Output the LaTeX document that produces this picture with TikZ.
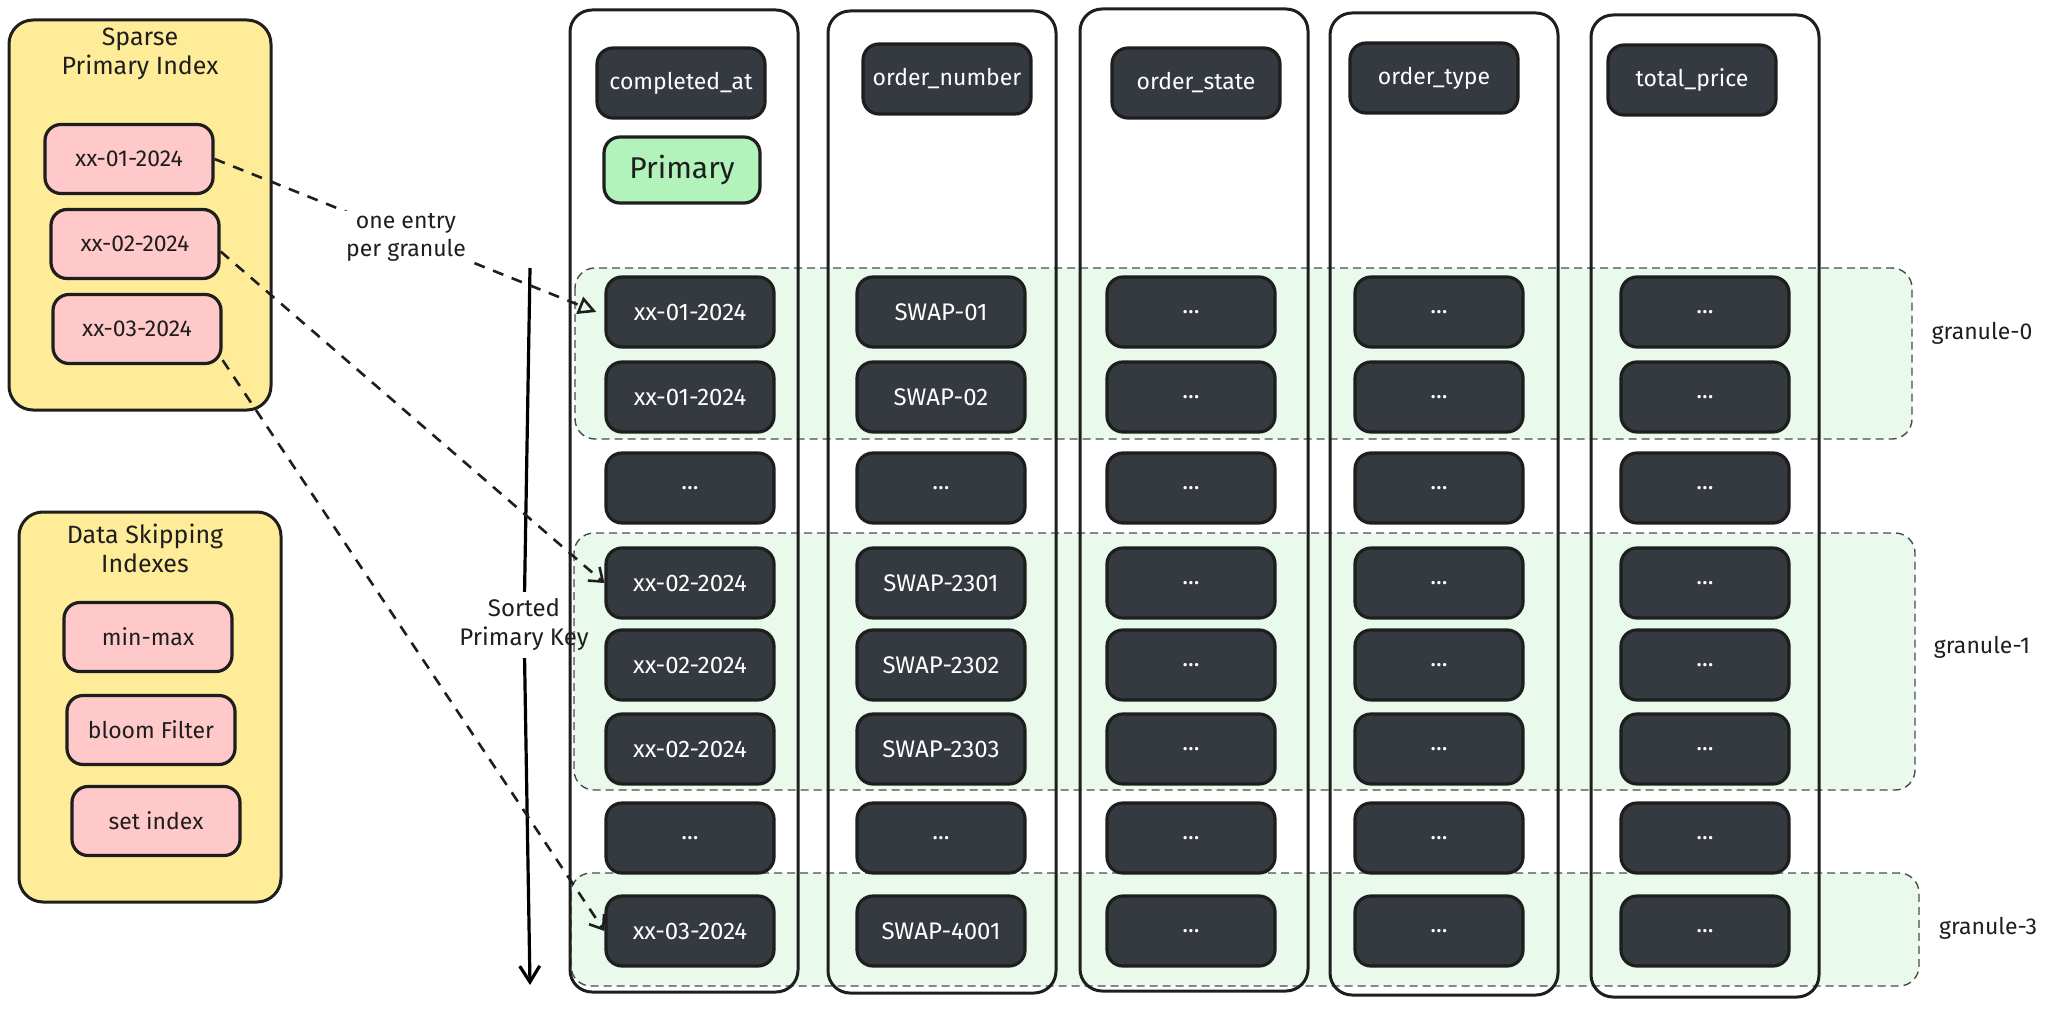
\documentclass[tikz,border=0pt]{standalone}
\usepackage{fontspec}
\setmainfont{Fira Sans}
\usetikzlibrary{arrows.meta,positioning,shapes}

\definecolor{idxyellow}{HTML}{FFEC99}
\definecolor{idxpink}{HTML}{FFC9C9}
\definecolor{keygreen}{HTML}{B2F2BB}
\definecolor{celldark}{HTML}{343A40}
\definecolor{inkblack}{HTML}{1E1E1E}
\definecolor{granulefill}{HTML}{E9F9EC}

\begin{document}
\begin{tikzpicture}[x=0.5pt,y=-0.5pt,
	font=\fontsize{11.5}{14}\selectfont,text=inkblack,
	panel/.style={draw=inkblack,line width=1.5pt,fill=idxyellow,rounded corners=12pt,minimum width=131pt,minimum height=195pt},
	entry/.style={draw=inkblack,line width=1.6pt,fill=idxpink,rounded corners=8pt,minimum width=84pt,minimum height=34.5pt},
	cell/.style={draw=inkblack,line width=1.6pt,fill=celldark,text=white,rounded corners=8pt,minimum width=84pt,minimum height=35pt,font=\fontsize{12}{14}\selectfont},
	column/.style={draw=inkblack,line width=1.5pt,rounded corners=11pt,minimum width=114pt,minimum height=491pt},
	granule/.style={draw=inkblack!80,dash pattern=on 4pt off 2.5pt,line width=0.7pt,fill=granulefill,rounded corners=10pt},
	pointer/.style={draw=inkblack,line width=1.3pt,dash pattern=on 5.5pt off 4.5pt},
	title/.style={align=center,font=\fontsize{12.5}{14.5}\selectfont}]

\useasboundingbox (0,0) rectangle (2048,1010);

%sparse primary index
\node[panel] (sparse) at (140,215) {};
\node[title] (sparsetitle) at (140,54) {Sparse\\Primary Index};
\node[entry] (pi1) at (129,159) {xx-01-2024};
\node[entry] (pi2) at (135,244) {xx-02-2024};
\node[entry] (pi3) at (137,329) {xx-03-2024};

%data skipping indexes
\node[panel] (skip) at (150,707) {};
\node[title] (skiptitle) at (145,548) {Data Skipping\\Indexes};
\node[entry] (minmax) at (148,637) {min-max};
\node[entry] (bloom) at (151,730) {bloom Filter};
\node[entry] (setidx) at (156,821) {set index};

%granules
\draw[granule] (575,268) rectangle (1912,439);%granule-0
\draw[granule] (574,533) rectangle (1915,790);%granule-1
\draw[granule] (571,873) rectangle (1919,986);%granule-3
\node (g0) at (1982,333) {granule-0};
\node (g1) at (1982,647) {granule-1};
\node (g3) at (1988,928) {granule-3};

%sort order
\coordinate (keytop) at (530,268);
\coordinate (keyend) at (530,985);
\node[align=center,font=\fontsize{12}{14.5}\selectfont] (sortkey) at (524,625) {Sorted\\Primary Key};
\draw[line width=1.6pt] (keytop) -- (sortkey);
\draw[-{Straight Barb[length=8pt,width=10pt]},line width=1.6pt] (sortkey) -- (keyend);

%columns
\node[column] (col1) at (684,501) {};
\node[column] (col2) at (942,502) {};
\node[column] (col3) at (1194,500) {};
\node[column] (col4) at (1444,504) {};
\node[column] (col5) at (1705,506) {};

%headers
\node[cell,font=\fontsize{11.5}{14}\selectfont] (hcompleted) at (681,83) {completed\_at};
\node[cell,font=\fontsize{11.5}{14}\selectfont] (hnumber) at (947,79) {order\_number};
\node[cell,font=\fontsize{11.5}{14}\selectfont] (hstate) at (1196,83) {order\_state};
\node[cell,font=\fontsize{11.5}{14}\selectfont] (htype) at (1434,78) {order\_type};
\node[cell,font=\fontsize{11.5}{14}\selectfont] (hprice) at (1692,80) {total\_price};
\node[draw=inkblack,line width=1.6pt,fill=keygreen,rounded corners=8pt,minimum width=78pt,minimum height=33pt,font=\fontsize{15}{17}\selectfont] (primary) at (682,170) {Primary};

%completed_at
\node[cell] (c11) at (690,312) {xx-01-2024};
\node[cell] (c21) at (690,397) {xx-01-2024};
\node[cell] (c31) at (690,488) {...};
\node[cell] (c41) at (690,583) {xx-02-2024};
\node[cell] (c51) at (690,665) {xx-02-2024};
\node[cell] (c61) at (690,749) {xx-02-2024};
\node[cell] (c71) at (690,838) {...};
\node[cell] (c81) at (690,931) {xx-03-2024};

%order_number
\node[cell] (c12) at (941,312) {SWAP-01};
\node[cell] (c22) at (941,397) {SWAP-02};
\node[cell] (c32) at (941,488) {...};
\node[cell] (c42) at (941,583) {SWAP-2301};
\node[cell] (c52) at (941,665) {SWAP-2302};
\node[cell] (c62) at (941,749) {SWAP-2303};
\node[cell] (c72) at (941,838) {...};
\node[cell] (c82) at (941,931) {SWAP-4001};

%other columns
\foreach \x/\c in {1191/3,1439/4,1705/5}
\foreach \y/\r in {312/1,397/2,488/3,583/4,665/5,749/6,838/7,931/8}
\node[cell] (c\r\c) at (\x,\y) {...};

%pointers
\draw[pointer,-{Triangle[open,length=9pt,width=9pt]}] (pi1.east) -- ([xshift=-4pt]c11.west);
\node[fill=white,align=center,inner sep=1pt] (perentry) at (406,237) {one entry\\per granule};
\draw[pointer,-{Straight Barb[length=6pt,width=9pt]}] (pi2.-5) -- (c41.west);
\draw[pointer,-{Straight Barb[length=6pt,width=9pt]}] (pi3.-20) -- (c81.west);

\end{tikzpicture}
\end{document}
